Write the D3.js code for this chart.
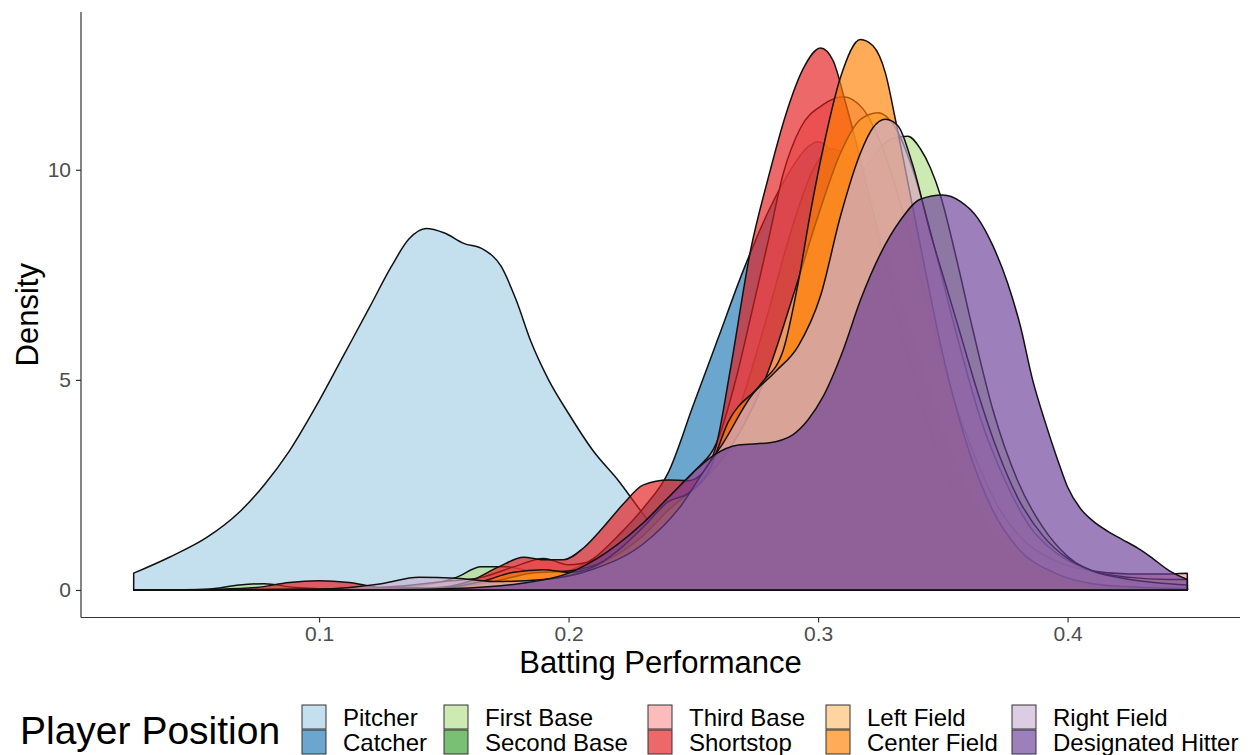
<!DOCTYPE html>
<html>
<head>
<meta charset="utf-8">
<script src="https://cdn.jsdelivr.net/npm/d3@7"></script>
<style>
  body { margin: 0; background: #fff; }
  svg text { font-family: "Liberation Sans", Arial, Helvetica, sans-serif; }
</style>
</head>
<body>
<div id="chart"></div>
<script>
// ── Data (x = batting performance, y = density) ──────────────────────────────
const POSITIONS = ["Pitcher", "Catcher", "First Base", "Second Base", "Third Base",
                   "Shortstop", "Left Field", "Center Field", "Right Field", "Designated Hitter"];
const COLORS    = ["#A6CEE3", "#1F78B4", "#B2DF8A", "#33A02C", "#FB9A99",
                   "#E31A1C", "#FDBF6F", "#FF7F00", "#CAB2D6", "#6A3D9A"];

const pitcher = [[0.0257,0.40],[0.04,0.78],[0.055,1.25],[0.068,1.85],[0.078,2.5],[0.088,3.3],[0.1,4.5],
  [0.11,5.6],[0.12,6.7],[0.129,7.7],[0.136,8.35],[0.143,8.6],[0.15,8.5],[0.158,8.25],[0.166,8.1],
  [0.173,7.7],[0.179,6.9],[0.185,5.9],[0.192,5.0],[0.2,4.2],[0.21,3.3],[0.22,2.6],[0.23,1.8],[0.24,1.1],
  [0.25,0.6],[0.26,0.3],[0.27,0.12],[0.29,0.03],[0.33,0],[0.448,0]];
const catcher = [[0.0257,0],[0.12,0],[0.16,0.05],[0.185,0.2],[0.2,0.45],[0.21,0.75],[0.22,1.3],[0.23,1.95],
  [0.24,2.8],[0.25,4.4],[0.26,6.0],[0.27,7.6],[0.28,9.0],[0.289,10.0],[0.296,10.55],[0.3,10.67],[0.306,10.4],
  [0.313,9.6],[0.32,8.4],[0.33,6.6],[0.34,4.9],[0.35,3.4],[0.36,2.2],[0.37,1.3],[0.38,0.75],[0.395,0.35],
  [0.41,0.15],[0.43,0.06],[0.448,0.03]];
const firstBase = [[0.0257,0],[0.055,0.02],[0.068,0.12],[0.078,0.15],[0.09,0.06],[0.11,0.02],[0.14,0.1],
  [0.155,0.3],[0.165,0.55],[0.175,0.55],[0.19,0.4],[0.21,0.6],[0.23,1.1],[0.25,2.0],[0.27,3.5],[0.285,5.3],
  [0.3,7.5],[0.312,9.3],[0.322,10.3],[0.33,10.75],[0.336,10.8],[0.341,10.5],[0.345,10.05],[0.349,9.4],
  [0.355,8.0],[0.362,6.2],[0.37,4.3],[0.38,2.6],[0.39,1.5],[0.4,0.8],[0.415,0.35],[0.43,0.15],[0.448,0.06]];
const secondBase = [[0.0257,0],[0.1,0.01],[0.15,0.05],[0.18,0.2],[0.2,0.35],[0.22,0.8],[0.24,1.5],[0.26,3.0],
  [0.27,4.6],[0.28,6.6],[0.29,8.7],[0.298,10.0],[0.305,10.5],[0.312,10.3],[0.32,9.3],[0.33,7.6],[0.34,5.6],
  [0.35,3.8],[0.36,2.4],[0.37,1.4],[0.38,0.8],[0.395,0.35],[0.41,0.15],[0.448,0.04]];
const thirdBase = [[0.0257,0],[0.1,0.01],[0.13,0.08],[0.15,0.2],[0.165,0.3],[0.178,0.55],[0.19,0.75],[0.2,0.6],
  [0.21,0.7],[0.22,1.1],[0.23,1.6],[0.24,2.2],[0.25,2.8],[0.26,3.6],[0.267,5.0],[0.273,6.5],[0.28,8.3],
  [0.286,9.9],[0.293,11.0],[0.302,11.55],[0.31,11.74],[0.318,11.45],[0.326,10.5],[0.334,9.0],[0.343,7.0],
  [0.352,5.0],[0.362,3.3],[0.372,2.0],[0.383,1.15],[0.395,0.7],[0.41,0.45],[0.425,0.38],[0.438,0.38],[0.448,0.4]];
const shortstop = [[0.0257,0],[0.06,0.02],[0.075,0.06],[0.088,0.18],[0.1,0.22],[0.112,0.18],[0.125,0.06],
  [0.145,0.05],[0.16,0.2],[0.172,0.55],[0.182,0.78],[0.19,0.72],[0.198,0.72],[0.206,1.0],[0.214,1.5],
  [0.222,2.05],[0.23,2.5],[0.24,2.62],[0.248,2.6],[0.254,2.8],[0.259,3.4],[0.265,5.3],[0.273,8.1],[0.28,9.8],
  [0.287,11.3],[0.294,12.4],[0.301,12.9],[0.306,12.6],[0.311,11.6],[0.318,10.0],[0.326,8.0],[0.335,5.8],
  [0.345,3.8],[0.355,2.3],[0.365,1.3],[0.38,0.6],[0.4,0.2],[0.42,0.08],[0.448,0.04]];
const leftField = [[0.0257,0],[0.12,0.01],[0.15,0.05],[0.17,0.2],[0.185,0.4],[0.2,0.45],[0.215,0.7],[0.23,1.3],
  [0.24,1.9],[0.25,2.4],[0.26,3.0],[0.27,3.9],[0.28,5.2],[0.29,7.0],[0.3,8.9],[0.309,10.4],[0.317,11.2],
  [0.324,11.36],[0.331,11.0],[0.338,10.0],[0.346,8.3],[0.355,6.2],[0.365,4.1],[0.375,2.6],[0.385,1.5],
  [0.395,0.9],[0.41,0.45],[0.425,0.3],[0.44,0.25],[0.448,0.25]];
const centerField = [[0.0257,0],[0.12,0.01],[0.15,0.05],[0.165,0.2],[0.178,0.42],[0.19,0.48],[0.2,0.42],
  [0.21,0.55],[0.22,0.95],[0.23,1.5],[0.24,2.1],[0.248,2.3],[0.256,2.8],[0.264,4.0],[0.277,4.9],[0.286,5.7],
  [0.292,7.3],[0.297,9.0],[0.302,10.5],[0.309,12.2],[0.317,13.1],[0.322,12.95],[0.327,12.3],[0.331,11.2],
  [0.336,9.7],[0.342,7.9],[0.35,5.6],[0.36,3.4],[0.37,1.9],[0.38,1.0],[0.395,0.4],[0.41,0.15],[0.43,0.06],[0.448,0.03]];
const rightField = [[0.0257,0],[0.1,0.02],[0.125,0.15],[0.14,0.3],[0.155,0.28],[0.17,0.2],[0.19,0.25],[0.21,0.5],
  [0.23,1.1],[0.245,2.0],[0.255,2.9],[0.262,3.5],[0.273,4.6],[0.283,5.2],[0.292,5.8],[0.301,7.0],[0.309,8.9],
  [0.317,10.4],[0.322,11.0],[0.327,11.2],[0.332,11.05],[0.338,10.1],[0.345,8.5],[0.351,7.3],[0.357,6.1],
  [0.364,4.7],[0.372,3.3],[0.38,2.2],[0.39,1.3],[0.4,0.75],[0.41,0.45],[0.425,0.25],[0.448,0.12]];
const designatedHitter = [[0.0257,0],[0.12,0],[0.16,0.05],[0.18,0.15],[0.2,0.4],[0.21,0.7],[0.22,1.1],[0.23,1.6],
  [0.24,2.2],[0.25,2.8],[0.258,3.2],[0.268,3.45],[0.28,3.5],[0.29,3.7],[0.296,4.05],[0.302,4.6],[0.31,5.7],
  [0.317,6.9],[0.325,8.0],[0.333,8.8],[0.341,9.3],[0.35,9.4],[0.357,9.25],[0.364,8.85],[0.37,8.2],[0.376,7.3],
  [0.381,6.3],[0.386,5.0],[0.391,4.0],[0.396,3.1],[0.4,2.45],[0.405,1.95],[0.41,1.65],[0.416,1.4],[0.422,1.2],
  [0.428,1.0],[0.433,0.8],[0.441,0.45],[0.448,0.25]];

const SERIES = [pitcher, catcher, firstBase, secondBase, thirdBase,
                shortstop, leftField, centerField, rightField, designatedHitter];

const Y_TICKS = [0, 5, 10];
const X_TICKS = [0.1, 0.2, 0.3, 0.4];

// ── Dimensions ────────────────────────────────────────────────────────────────
const W = 1252, H = 755;
const panel = { left: 81, right: 1240, top: 12, bottom: 617.5 };
const ALPHA = 0.66;

const svg = d3.select("#chart").append("svg")
  .attr("width", W).attr("height", H);

// ── Scales (ggplot-style 5% expansion) ────────────────────────────────────────
const allPts = SERIES.flat();
const [xMin, xMax] = d3.extent(allPts, d => d[0]);
const yMax = d3.max(allPts, d => d[1]);
const xPad = (xMax - xMin) * 0.05, yPad = yMax * 0.05;

const x = d3.scaleLinear().domain([xMin - xPad, xMax + xPad]).range([panel.left, panel.right]);
const y = d3.scaleLinear().domain([-yPad, yMax + yPad]).range([panel.bottom, panel.top]);

// ── Densities ─────────────────────────────────────────────────────────────────
const area = d3.area()
  .x(d => x(d[0]))
  .y0(y(0))
  .y1(d => y(d[1]))
  .curve(d3.curveMonotoneX);

svg.append("g").selectAll("path")
  .data(SERIES)
  .join("path")
  .attr("d", d => area(d) + "Z")
  .attr("fill", (d, i) => COLORS[i])
  .attr("fill-opacity", ALPHA)
  .attr("stroke", "#111")
  .attr("stroke-width", 1.5)
  .attr("stroke-linejoin", "round");

// ── Axes ──────────────────────────────────────────────────────────────────────
const yAxisG = svg.append("g")
  .attr("transform", `translate(${panel.left},0)`)
  .call(d3.axisLeft(y).tickValues(Y_TICKS).tickSize(5).tickPadding(5).tickSizeOuter(0));
const xAxisG = svg.append("g")
  .attr("transform", `translate(0,${panel.bottom})`)
  .call(d3.axisBottom(x).tickValues(X_TICKS).tickFormat(d3.format(".1f"))
    .tickSize(5).tickPadding(4).tickSizeOuter(0));

[xAxisG, yAxisG].forEach(g => {
  g.select(".domain").attr("stroke", "#333").attr("stroke-width", 1.2);
  g.selectAll(".tick line").attr("stroke", "#333").attr("stroke-width", 1.2);
  g.selectAll(".tick text").attr("fill", "#4D4D4D").style("font-size", "21px");
});
// axis lines run the full panel, like theme_classic
xAxisG.select(".domain").attr("d", `M${panel.left},0H${panel.right}`);
yAxisG.select(".domain").attr("d", `M0,${panel.top}V${panel.bottom}`);

// ── Axis titles ───────────────────────────────────────────────────────────────
svg.append("text")
  .attr("x", (panel.left + panel.right) / 2).attr("y", 673)
  .attr("text-anchor", "middle")
  .style("font-size", "31px").attr("fill", "#000")
  .text("Batting Performance");

svg.append("text")
  .attr("transform", `translate(38,${(panel.top + panel.bottom) / 2}) rotate(-90)`)
  .attr("text-anchor", "middle")
  .style("font-size", "31px").attr("fill", "#000")
  .text("Density");

// ── Legend ────────────────────────────────────────────────────────────────────
const LEGEND_COL_X = [302, 444, 648, 826, 1012];
const KEY = 24, ROW_Y = 705;

const legend = svg.append("g");
legend.append("text")
  .attr("x", 20).attr("y", 744)
  .style("font-size", "39px").attr("fill", "#000")
  .text("Player Position");

POSITIONS.forEach((name, i) => {
  const col = Math.floor(i / 2), row = i % 2;
  const g = legend.append("g")
    .attr("transform", `translate(${LEGEND_COL_X[col]},${ROW_Y + row * (KEY + 1)})`);
  g.append("rect")
    .attr("width", KEY).attr("height", KEY)
    .attr("fill", COLORS[i]).attr("fill-opacity", ALPHA)
    .attr("stroke", "#333").attr("stroke-width", 1);
  g.append("text")
    .attr("x", KEY + 17).attr("y", KEY / 2 + 8.5)
    .style("font-size", "24px").attr("fill", "#000")
    .text(name);
});
</script>
</body>
</html>
